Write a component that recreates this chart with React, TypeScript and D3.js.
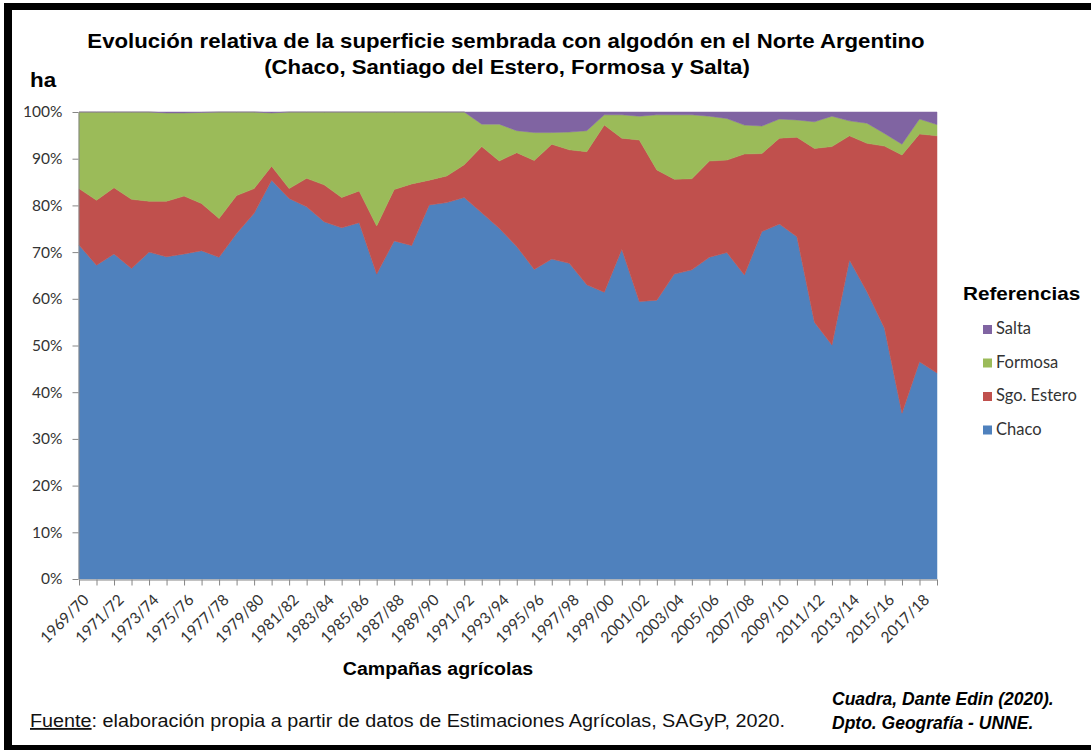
import * as d3 from 'd3';
import { useEffect, useRef } from 'react';

const campaigns = [
  '1969/70', '1970/71', '1971/72', '1972/73', '1973/74', '1974/75', '1975/76', '1976/77', '1977/78', '1978/79',
  '1979/80', '1980/81', '1981/82', '1982/83', '1983/84', '1984/85', '1985/86', '1986/87', '1987/88', '1988/89',
  '1989/90', '1990/91', '1991/92', '1992/93', '1993/94', '1994/95', '1995/96', '1996/97', '1997/98', '1998/99',
  '1999/00', '2000/01', '2001/02', '2002/03', '2003/04', '2004/05', '2005/06', '2006/07', '2007/08', '2008/09',
  '2009/10', '2010/11', '2011/12', '2012/13', '2013/14', '2014/15', '2015/16', '2016/17', '2017/18', '2018/19',
];

// percentages of the sown area per province
const chaco = [
  71.5, 67.2, 69.6, 66.5, 70.0, 69.0, 69.6, 70.3, 68.9, 74.0,
  78.3, 85.4, 81.5, 79.7, 76.5, 75.2, 76.3, 65.3, 72.4, 71.4,
  80.1, 80.6, 81.7, 78.4, 75.1, 71.2, 66.3, 68.5, 67.6, 63.0,
  61.4, 70.6, 59.4, 59.7, 65.3, 66.2, 68.9, 69.9, 65.1, 74.4,
  76.0, 73.3, 55.0, 50.1, 68.3, 61.5, 53.7, 35.5, 46.5, 44.1,
];
const sgoEstero = [
  12.1, 13.9, 14.2, 14.8, 10.9, 11.9, 12.4, 10.1, 8.3, 8.1,
  5.3, 3.0, 2.1, 6.1, 7.9, 6.5, 6.8, 10.3, 11.0, 13.2,
  5.3, 5.7, 7.0, 14.2, 14.4, 20.1, 23.3, 24.6, 24.3, 28.5,
  35.8, 23.8, 34.6, 27.9, 20.3, 19.5, 20.6, 19.8, 25.9, 16.7,
  18.4, 21.3, 37.2, 42.5, 26.6, 31.8, 39.0, 55.3, 48.8, 50.8,
];
const formosa = [
  16.4, 18.9, 16.2, 18.7, 19.1, 18.9, 17.8, 19.5, 22.8, 17.9,
  16.4, 11.4, 16.4, 14.2, 15.6, 18.3, 16.9, 24.4, 16.6, 15.4,
  14.6, 13.7, 11.3, 4.8, 7.9, 4.7, 6.0, 2.5, 3.8, 4.5,
  2.2, 5.0, 5.1, 11.8, 13.8, 13.7, 9.6, 8.9, 6.2, 5.9,
  4.1, 3.7, 5.7, 6.5, 3.2, 4.3, 2.7, 2.3, 3.2, 2.4,
];
const salta = [
  0, 0, 0, 0, 0, 0.2, 0.2, 0.1, 0, 0,
  0, 0.2, 0, 0, 0, 0, 0, 0, 0, 0,
  0, 0, 0, 2.6, 2.6, 4.0, 4.4, 4.4, 4.3, 4.0,
  0.6, 0.6, 0.9, 0.6, 0.6, 0.6, 0.9, 1.4, 2.8, 3.0,
  1.5, 1.7, 2.1, 0.9, 1.9, 2.4, 4.6, 6.9, 1.5, 2.7,
];

const seriesKeys = ['Chaco', 'Sgo. Estero', 'Formosa', 'Salta'];
const seriesColors = ['#4F81BD', '#C0504D', '#9BBB59', '#8064A2'];
const yTicks = [0, 10, 20, 30, 40, 50, 60, 70, 80, 90, 100];

const W = 1091;
const H = 750;

export default function App() {
  const svgRef = useRef<SVGSVGElement>(null);

  useEffect(() => {
    if (!svgRef.current) return;
    const svg = d3.select(svgRef.current);
    svg.selectAll('*').remove();

    const left = 79, right = 937, top = 112, bottom = 579;
    const tickFont = 'Lato, "Open Sans", sans-serif';
    const arial = '"Liberation Sans", Arial, sans-serif';

    // text that is a bit wider than the font, like the original export
    const label = (x: number, y: number, txt: string, size: number, sx: number, opts: any = {}) =>
      svg.append('text')
        .attr('transform', `translate(${x},${y}) scale(${sx},1)`)
        .attr('text-anchor', opts.anchor ?? 'start')
        .style('font-family', opts.family ?? arial)
        .style('font-weight', opts.weight ?? 'normal')
        .style('font-style', opts.style ?? 'normal')
        .style('font-size', `${size}px`)
        .attr('fill', opts.fill ?? '#000')
        .text(txt);

    // frame
    svg.append('rect').attr('x', 0).attr('y', 0).attr('width', W).attr('height', H).attr('fill', '#fff');
    svg.append('rect').attr('x', 4).attr('y', 3).attr('width', W - 4).attr('height', 7).attr('fill', '#000');
    svg.append('rect').attr('x', 4).attr('y', 3).attr('width', 8).attr('height', H - 3).attr('fill', '#000');
    svg.append('rect').attr('x', 4).attr('y', 745).attr('width', W - 4).attr('height', 5).attr('fill', '#000');

    const rows = campaigns.map((c, i) => ({
      campaign: c,
      Chaco: chaco[i],
      'Sgo. Estero': sgoEstero[i],
      Formosa: formosa[i],
      Salta: salta[i],
    }));

    const stacked = d3.stack<any>().keys(seriesKeys)(rows);

    const x = d3.scalePoint().domain(campaigns).range([left, right]);
    const y = d3.scaleLinear().domain([0, 100]).range([bottom, top]);

    const area = d3.area<any>()
      .x(d => x(d.data.campaign) ?? 0)
      .y0(d => y(d[0]))
      .y1(d => y(Math.min(100, d[1])));

    svg.append('g')
      .selectAll('path')
      .data(stacked)
      .join('path')
      .attr('d', d => area(d) ?? '')
      .attr('fill', (_, i) => seriesColors[i])
      .attr('stroke', (_, i) => seriesColors[i])
      .attr('stroke-width', 0.5);

    // y axis
    const yAxis = svg.append('g')
      .attr('transform', `translate(${left - 0.5},0)`)
      .call(d3.axisLeft(y).tickValues(yTicks).tickSize(6).tickSizeOuter(0).tickPadding(10).tickFormat(d => `${d}%`));
    yAxis.select('.domain').attr('stroke', '#868686');
    yAxis.selectAll('.tick line').attr('stroke', '#868686');
    yAxis.selectAll('text')
      .style('font-family', tickFont)
      .style('font-size', '15.5px')
      .attr('fill', '#333');

    // x axis
    const xAxis = svg.append('g')
      .attr('transform', `translate(0,${bottom + 0.5})`)
      .call(d3.axisBottom(x).tickSize(6).tickSizeOuter(0).tickFormat((d, i) => (i % 2 === 0 ? d : '')));
    xAxis.select('.domain').attr('stroke', '#868686');
    xAxis.selectAll('.tick line').attr('stroke', '#868686');
    xAxis.selectAll('text')
      .style('font-family', tickFont)
      .style('font-size', '15.5px')
      .attr('fill', '#333')
      .attr('text-anchor', 'end')
      .attr('dy', 0)
      .attr('transform', 'translate(4,15) rotate(-45)');

    // titles
    label(506, 48, 'Evolución relativa de la superficie sembrada con algodón en el Norte Argentino', 20, 1.11,
      { anchor: 'middle', weight: 'bold' });
    label(507, 74, '(Chaco, Santiago del Estero, Formosa y Salta)', 20, 1.11, { anchor: 'middle', weight: 'bold' });
    label(30, 87, 'ha', 20, 1.12, { weight: 'bold' });
    label(438, 675, 'Campañas agrícolas', 17.5, 1.12, { anchor: 'middle', weight: 'bold' });

    // source
    const src = svg.append('text')
      .attr('transform', 'translate(30,727) scale(1.07,1)')
      .style('font-family', arial).style('font-size', '18.5px')
      .attr('fill', '#111');
    src.append('tspan').attr('text-decoration', 'underline').text('Fuente');
    src.append('tspan').text(': elaboración propia a partir de datos de Estimaciones Agrícolas, SAGyP, 2020.');

    label(832, 705, 'Cuadra, Dante Edin (2020).', 17.5, 1, { weight: 'bold', style: 'italic' });
    label(832, 729, 'Dpto. Geografía - UNNE.', 17.5, 1, { weight: 'bold', style: 'italic' });

    // legend
    label(963, 300, 'Referencias', 18, 1.15, { weight: 'bold' });

    const legendOrder = [3, 2, 1, 0];
    const lg = svg.append('g')
      .selectAll('g')
      .data(legendOrder)
      .join('g')
      .attr('transform', (_, j) => `translate(983,${325 + j * 33.5})`);
    lg.append('rect')
      .attr('width', 9).attr('height', 9)
      .attr('fill', i => seriesColors[i]);
    lg.append('text')
      .attr('x', 13).attr('y', 9)
      .style('font-family', tickFont).style('font-size', '16.5px')
      .attr('fill', '#333')
      .text(i => seriesKeys[i]);
  }, []);

  return (
    <div style={{ position: 'absolute', left: 0, top: 0 }}>
      <svg ref={svgRef} width={W} height={H} style={{ display: 'block' }} />
    </div>
  );
}
